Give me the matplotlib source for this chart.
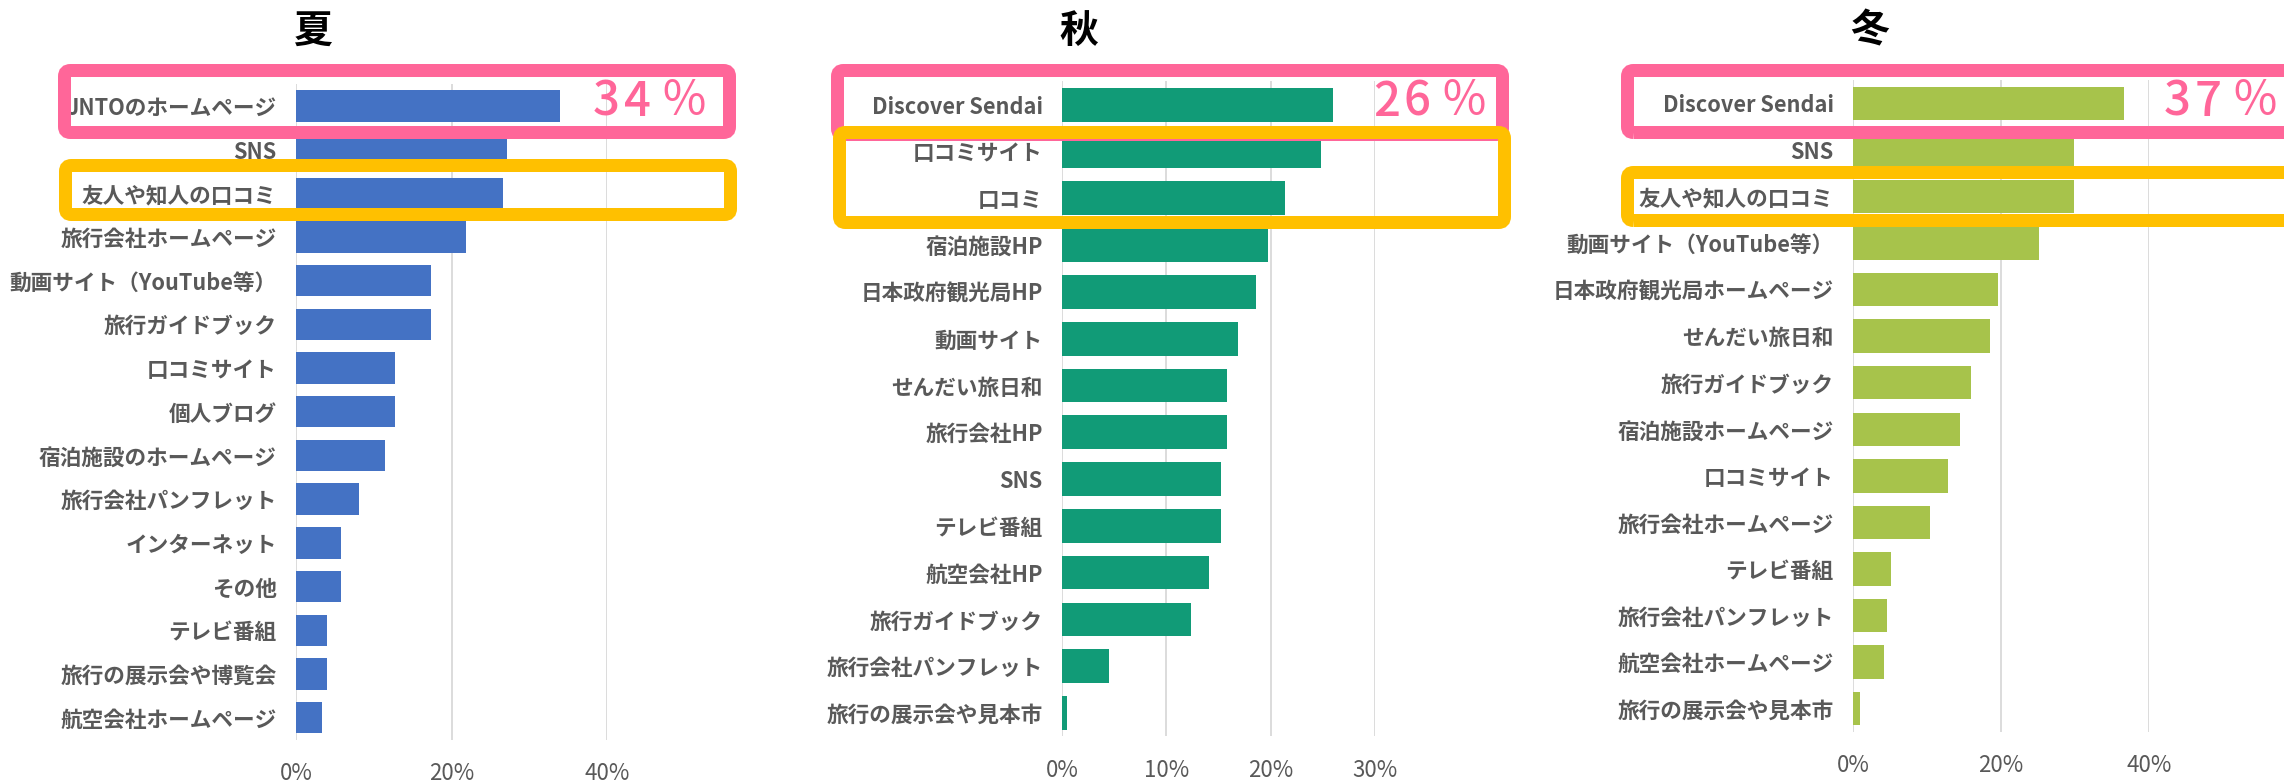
import matplotlib

matplotlib.use("Agg")
import matplotlib.pyplot as plt
from matplotlib.patches import FancyBboxPatch
from matplotlib.ticker import PercentFormatter
from matplotlib.transforms import IdentityTransform

plt.rcParams["font.family"] = ["Noto Sans CJK JP", "DejaVu Sans"]

W, H, DPI = 2284, 782, 100

# 夏
summer_labels = [
    "JNTOのホームページ", "SNS", "友人や知人の口コミ", "旅行会社ホームページ",
    "動画サイト（YouTube等）", "旅行ガイドブック", "口コミサイト", "個人ブログ",
    "宿泊施設のホームページ", "旅行会社パンフレット", "インターネット", "その他",
    "テレビ番組", "旅行の展示会や博覧会", "航空会社ホームページ",
]
summer_values = [34.0, 27.2, 26.6, 21.9, 17.3, 17.3, 12.7, 12.7, 11.5, 8.1, 5.8, 5.8, 4.0, 4.0, 3.4]

# 秋
autumn_labels = [
    "Discover Sendai", "口コミサイト", "口コミ", "宿泊施設HP", "日本政府観光局HP",
    "動画サイト", "せんだい旅日和", "旅行会社HP", "SNS", "テレビ番組",
    "航空会社HP", "旅行ガイドブック", "旅行会社パンフレット", "旅行の展示会や見本市",
]
autumn_values = [26.0, 24.8, 21.4, 19.7, 18.6, 16.9, 15.8, 15.8, 15.2, 15.2, 14.1, 12.4, 4.5, 0.5]

# 冬
winter_labels = [
    "Discover Sendai", "SNS", "友人や知人の口コミ", "動画サイト（YouTube等）",
    "日本政府観光局ホームページ", "せんだい旅日和", "旅行ガイドブック",
    "宿泊施設ホームページ", "口コミサイト", "旅行会社ホームページ", "テレビ番組",
    "旅行会社パンフレット", "航空会社ホームページ", "旅行の展示会や見本市",
]
winter_values = [36.6, 29.9, 29.9, 25.2, 19.6, 18.5, 15.9, 14.4, 12.9, 10.4, 5.2, 4.6, 4.2, 1.0]

PINK = "#FF6699"
ORANGE = "#FFC000"
TEXT_GRAY = "#595959"


def add_panel(fig, box, title, labels, values, color, xmax, step):
    """One season: horizontal bar chart, box given in pixels (left, top, right, bottom)."""
    left, top, right, bottom = box
    ax = fig.add_axes([left / W, 1 - bottom / H, (right - left) / W, (bottom - top) / H])
    y = list(range(len(labels)))
    ax.barh(y, [v / 100 for v in values], height=0.72, color=color)
    ax.set_ylim(len(labels) - 0.5, -0.5)
    ax.set_xlim(0, xmax)
    ax.set_yticks(y)
    ax.set_yticklabels(labels, fontsize=15.6, fontweight="bold", color=TEXT_GRAY)
    ticks = [i * step for i in range(int(round(xmax / step)) + 1)]
    ax.set_xticks(ticks)
    ax.xaxis.set_major_formatter(PercentFormatter(1.0, decimals=0))
    ax.tick_params(axis="y", length=0, pad=14)
    ax.tick_params(axis="x", length=0, pad=16, labelsize=16, labelcolor=TEXT_GRAY)
    ax.grid(axis="x", color="#D9D9D9", lw=1.3)
    ax.set_axisbelow(True)
    for s in ax.spines.values():
        s.set_visible(False)
    fig.text((left + 17) / W, 1 - 31 / H, title, fontsize=28, fontweight="bold",
             ha="center", va="center", color="black")
    return ax


def add_box(fig, x0, y0, x1, y1, color):
    """Rounded highlight frame; coords are the line centre in image pixels."""
    patch = FancyBboxPatch((x0, H - y1), x1 - x0, y1 - y0,
                           boxstyle="round,pad=0,rounding_size=6",
                           fill=False, ec=color, lw=13 * 72 / DPI,
                           transform=IdentityTransform(), zorder=10)
    fig.add_artist(patch)


def add_share(fig, x, value):
    """Big pink percentage, spaced out like the original."""
    text = f"{round(value)}％"
    weights = ["medium", "medium", "normal"]
    for ch, dx, wt in zip(text, [0, 31, 67], weights):
        fig.text((x + dx) / W, 1 - 102 / H, ch, fontsize=34, color=PINK,
                 fontweight=wt, ha="left", va="center", zorder=11)


def main():
    fig = plt.figure(figsize=(W / DPI, H / DPI), dpi=DPI)

    add_panel(fig, (296, 84, 607, 739.5), "夏", summer_labels, summer_values,
              "#4472C4", 0.4, 0.2)
    add_panel(fig, (1062, 81.3, 1375, 736.4), "秋", autumn_labels, autumn_values,
              "#119B77", 0.3, 0.1)
    add_panel(fig, (1853, 80, 2149, 732), "冬", winter_labels, winter_values,
              "#A7C34B", 0.4, 0.2)

    # highlight frames
    add_box(fig, 64.5, 70.5, 729.5, 132.5, PINK)
    add_box(fig, 65.5, 165.5, 730.5, 214.5, ORANGE)
    add_box(fig, 837.5, 70.5, 1502.5, 134.5, PINK)
    add_box(fig, 839.5, 132.5, 1504.5, 222.5, ORANGE)
    add_box(fig, 1627.5, 70.5, 2310, 132.5, PINK)
    add_box(fig, 1627.5, 172.5, 2310, 220.5, ORANGE)

    # share of the top source
    add_share(fig, 593, summer_values[0])
    add_share(fig, 1373, autumn_values[0])
    add_share(fig, 2164, winter_values[0])

    fig.savefig("out.png", dpi=DPI)


if __name__ == "__main__":
    main()
